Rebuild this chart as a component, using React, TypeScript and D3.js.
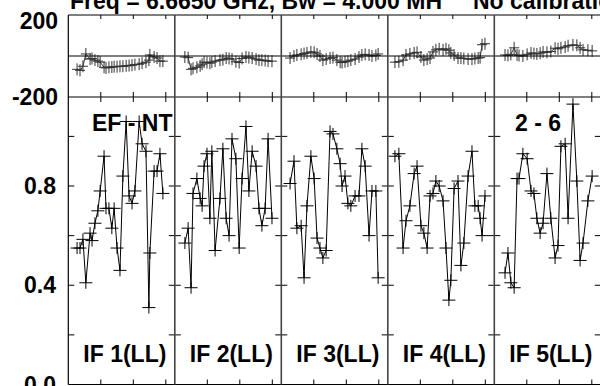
import React from "react";
import * as d3 from "d3";

// ---------- data (time in minutes within each IF panel) ----------
const ifLabels = ["IF 1(LL)", "IF 2(LL)", "IF 3(LL)", "IF 4(LL)", "IF 5(LL)"];
const titleText = "Freq = 6.6650 GHz, Bw = 4.000 MH";
const titleText2 = "No calibration";
const baselineLabel = "EF - NT";
const stokesLabel = "2 - 6";
const ampTickLabels = ["0.0", "0.4", "0.8"];
const ampTickValues = [0, 0.4, 0.8];
const ampMinorTicks = [0.2, 0.4, 0.6, 0.8, 1.0];
const phaseTickLabels = ["200", "-200"];
const timeTicks = [10, 20, 30];

const time1 = [2.7, 3.6, 4.5, 5.4, 6.7, 7.3, 8.2, 9.1, 9.8, 11.0, 11.6, 12.5, 13.4, 14.1, 15.0, 15.9, 16.8, 17.8, 18.7, 19.6, 20.5, 21.8, 22.7, 23.9, 24.8, 25.1, 26.4, 27.3, 28.2, 29.1];
const amp1 = [0.55, 0.55, 0.585, 0.41, 0.61, 0.58, 0.65, 0.70, 0.78, 0.92, 0.71, 0.71, 0.63, 0.71, 0.55, 0.46, 0.84, 1.06, 0.76, 0.73, 0.78, 1.06, 0.97, 0.94, 0.31, 0.53, 0.86, 0.86, 0.93, 0.77];
const phase1 = [-65, -70, -50, 10, -15, -12, -20, -25, -30, -55, -58, -55, -54, -52, -52, -50, -50, -48, -47, -45, -42, -40, -35, -30, -20, 5, -5, -10, -25, -25];

const time2 = [3.1, 4.1, 5.0, 5.6, 6.8, 7.8, 8.4, 9.0, 9.9, 10.8, 11.4, 12.4, 13.9, 14.8, 15.8, 16.7, 17.6, 18.8, 19.8, 20.7, 21.9, 22.8, 23.8, 25.0, 25.9, 26.8, 27.8, 28.7, 29.9];
const amp2 = [0.57, 0.63, 0.39, 0.77, 0.83, 0.75, 0.72, 0.88, 0.93, 0.67, 0.94, 0.54, 0.75, 0.95, 0.67, 0.60, 0.99, 0.91, 0.55, 0.83, 1.04, 0.78, 0.94, 0.88, 0.71, 0.64, 0.71, 0.99, 0.67];
const phase2 = [-5, -8, -65, -60, -55, -48, -40, -30, -32, -35, -30, -25, -20, -18, -10, -12, -15, -28, -32, -12, -5, -8, -10, -15, -20, -20, -22, -25, -25];

const time3 = [2.7, 3.9, 4.8, 6.1, 7.0, 7.9, 9.1, 10.1, 11.0, 11.9, 12.8, 13.8, 15.0, 15.9, 17.1, 18.1, 18.7, 19.6, 20.5, 21.4, 22.7, 23.9, 24.8, 25.8, 27.0, 27.9, 29.1, 29.8];
const amp3 = [0.81, 0.90, 0.63, 0.64, 0.43, 0.72, 0.92, 0.83, 0.59, 0.55, 0.51, 0.54, 1.02, 1.01, 0.95, 0.89, 0.80, 0.84, 0.73, 0.72, 0.76, 0.76, 0.95, 0.88, 0.60, 0.78, 0.78, 0.43];
const phase3 = [-10, 0, 5, 8, 12, 15, 20, 18, 10, 0, -20, -15, -10, -8, -20, -30, -32, -28, -25, -20, -15, -5, 5, 8, 5, 0, 3, 10];

const time4 = [2.2, 3.4, 4.7, 5.6, 6.8, 8.1, 9.0, 10.2, 11.1, 12.1, 13.0, 13.9, 14.8, 15.8, 17.0, 17.9, 18.8, 19.4, 20.4, 21.6, 22.5, 23.4, 24.7, 25.9, 26.8, 27.8, 28.4, 29.0, 29.9];
const amp4 = [0.92, 0.93, 0.55, 0.66, 0.72, 0.85, 0.88, 0.64, 0.61, 0.55, 0.76, 0.77, 0.82, 0.80, 0.74, 0.55, 0.34, 0.42, 0.79, 0.82, 0.48, 0.57, 0.84, 0.94, 0.72, 0.72, 0.67, 0.60, 0.76];
const phase4 = [-30, -28, -20, 5, 10, 15, 18, -5, -20, -15, -10, 20, 30, 35, 30, 35, 28, 15, 5, -10, -10, -12, -15, -15, -12, -10, -8, 55, 60];

const time5 = [3.3, 4.2, 5.1, 6.1, 7.0, 7.6, 8.8, 10.1, 11.3, 12.2, 13.1, 14.1, 15.0, 16.2, 17.4, 18.7, 19.6, 20.5, 21.8, 22.7, 24.2, 25.4, 26.4, 27.3, 28.8, 30.1];
const amp5 = [0.45, 0.53, 0.41, 0.39, 0.83, 0.83, 0.93, 0.91, 0.78, 0.77, 0.67, 0.61, 0.65, 0.85, 0.67, 0.51, 0.56, 0.96, 0.97, 0.67, 1.13, 0.82, 0.50, 0.57, 0.74, 0.84];
const phase5 = [5, 3, 8, 40, 5, 2, 0, 8, 15, 12, 10, 14, 20, 18, 22, 38, 35, 40, 44, 50, 54, 52, 40, 30, 28, 25];

const times = [time1, time2, time3, time4, time5];
const amps = [amp1, amp2, amp3, amp4, amp5];
const phases = [phase1, phase2, phase3, phase4, phase5];

// ---------- layout ----------
const W = 600;
const H = 386;
const LEFT = 68.3;
const PW = 106.5;
const PH_TOP = 15;
const PH_BOT = 97;
const AMP_BOT = 384.5;
const FONT = "'Liberation Sans', Arial, Helvetica, sans-serif";

const yPhase = d3.scaleLinear().domain([-200, 200]).range([PH_BOT, PH_TOP]);
const yAmp = d3.scaleLinear().domain([0, 0.8]).range([AMP_BOT, 186]);

function Cross({ x, y, hw, hh, color }: { x: number; y: number; hw: number; hh: number; color: string }) {
  return (
    <g stroke={color} strokeWidth={1}>
      <line x1={x - hw} x2={x + hw} y1={y} y2={y} />
      <line x1={x} x2={x} y1={y - hh} y2={y + hh} />
    </g>
  );
}

function Panel({ i }: { i: number }) {
  const x0 = LEFT + i * PW;
  const xs = d3.scaleLinear().domain([0, PW / 3.25]).range([x0, x0 + PW]);
  const t = times[i];
  const a = amps[i];
  const p = phases[i];
  const ampLine = d3
    .line<number>()
    .x((_, k) => xs(t[k]))
    .y((d) => yAmp(d));
  const phLine = d3
    .line<number>()
    .x((_, k) => xs(t[k]))
    .y((d) => yPhase(d));
  const tl = 6;
  return (
    <g>
      {/* x ticks */}
      {timeTicks.map((tt) => (
        <g key={tt} stroke="#000" strokeWidth={1}>
          <line x1={xs(tt)} x2={xs(tt)} y1={PH_TOP} y2={PH_TOP + 4} />
          <line x1={xs(tt)} x2={xs(tt)} y1={PH_BOT - 5} y2={PH_BOT + 5} />
          <line x1={xs(tt)} x2={xs(tt)} y1={AMP_BOT - 5} y2={AMP_BOT} />
        </g>
      ))}
      {/* amp y ticks */}
      {ampMinorTicks.map((v) => (
        <g key={v} stroke="#000" strokeWidth={1}>
          <line x1={x0} x2={x0 + tl} y1={yAmp(v)} y2={yAmp(v)} />
          <line x1={x0 + PW - tl} x2={x0 + PW} y1={yAmp(v)} y2={yAmp(v)} />
        </g>
      ))}
      {/* phase */}
      <path d={phLine(p) || ""} fill="none" stroke="#000" strokeWidth={0.8} />
      {p.map((v, k) => (
        <Cross key={k} x={xs(t[k])} y={yPhase(v)} hw={5} hh={6} color="#333" />
      ))}
      {/* amplitude */}
      <path d={ampLine(a) || ""} fill="none" stroke="#000" strokeWidth={1} />
      {a.map((v, k) => (
        <Cross key={k} x={xs(t[k])} y={yAmp(v)} hw={6.5} hh={6} color="#000" />
      ))}
      <text
        x={x0 + 15}
        y={362}
        fontFamily={FONT}
        fontWeight="bold"
        fontSize={23}
        fill="#000"
      >
        {ifLabels[i]}
      </text>
    </g>
  );
}

export default function App() {
  const dividers = [1, 2, 3, 4, 5].map((i) => LEFT + i * PW);
  return (
    <div style={{ position: "fixed", left: 0, top: 0, width: W, height: H, background: "#fff" }}>
      <svg width={W} height={H} viewBox={`0 0 ${W} ${H}`} style={{ display: "block" }}>
        <rect x={0} y={0} width={W} height={H} fill="#fff" />
        {/* title (clipped at top) */}
        <text x={70} y={8.5} fontFamily={FONT} fontWeight="bold" fontSize={23} fill="#000">
          {titleText}
        </text>
        <text x={473} y={8.5} fontFamily={FONT} fontWeight="bold" fontSize={23} fill="#000">
          {titleText2}
        </text>
        {[0, 1, 2, 3, 4].map((i) => (
          <Panel key={i} i={i} />
        ))}
        {/* frame */}
        <line x1={LEFT} x2={W} y1={PH_TOP} y2={PH_TOP} stroke="#000" strokeWidth={1} />
        <line x1={LEFT} x2={W} y1={yPhase(0)} y2={yPhase(0)} stroke="#000" strokeWidth={1} />
        <line x1={LEFT} x2={W} y1={PH_BOT} y2={PH_BOT} stroke="#000" strokeWidth={1.2} />
        <line x1={LEFT} x2={W} y1={AMP_BOT} y2={AMP_BOT} stroke="#000" strokeWidth={1.2} />
        <line x1={LEFT} x2={LEFT} y1={PH_TOP} y2={AMP_BOT} stroke="#000" strokeWidth={1.2} />
        {dividers.map((x) => (
          <line key={x} x1={x} x2={x} y1={PH_TOP} y2={AMP_BOT} stroke="#444" strokeWidth={1.6} />
        ))}
        {/* axis labels */}
        <text x={58} y={29} textAnchor="end" fontFamily={FONT} fontWeight="bold" fontSize={23}>
          {phaseTickLabels[0]}
        </text>
        <text x={58} y={yPhase(-200) + 8} textAnchor="end" fontFamily={FONT} fontWeight="bold" fontSize={23}>
          {phaseTickLabels[1]}
        </text>
        {ampTickValues.map((v, k) => (
          <text key={v} x={56} y={yAmp(v) + 8} textAnchor="end" fontFamily={FONT} fontWeight="bold" fontSize={23}>
            {ampTickLabels[k]}
          </text>
        ))}
        <text x={92} y={131} fontFamily={FONT} fontWeight="bold" fontSize={23}>
          {baselineLabel}
        </text>
        <text x={515} y={131} fontFamily={FONT} fontWeight="bold" fontSize={23}>
          {stokesLabel}
        </text>
      </svg>
    </div>
  );
}
